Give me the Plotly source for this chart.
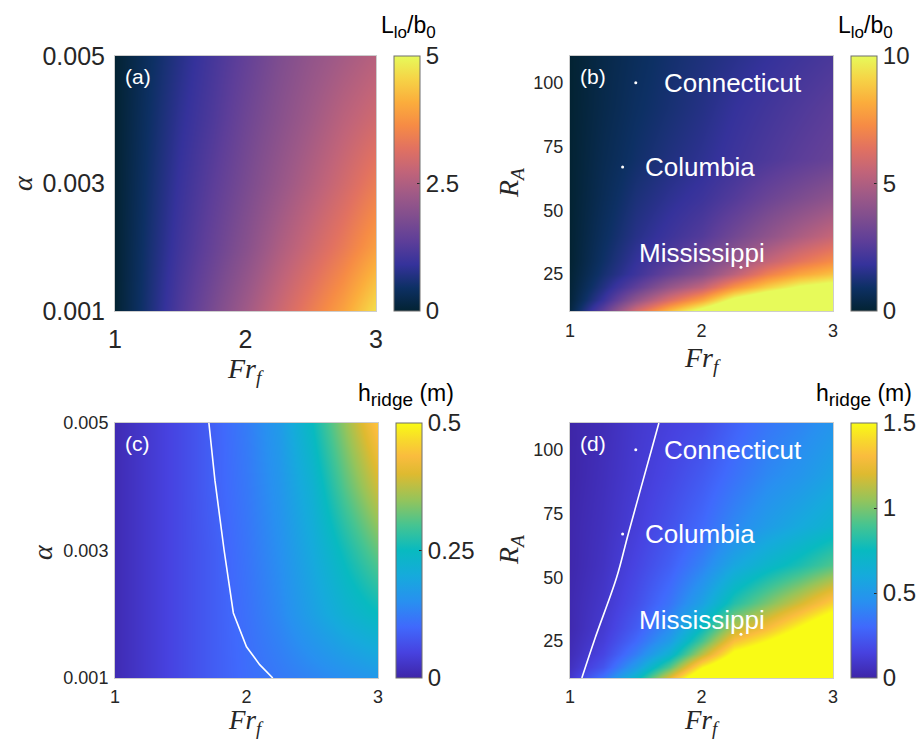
import plotly.graph_objects as go

W, H = 924, 740

# ---- grids -------------------------------------------------------------
fr = [1.0, 1.25, 1.5, 1.75, 2.0, 2.25, 2.5, 2.75, 3.0]
alpha = [0.001, 0.002, 0.003, 0.004, 0.005]
ra = [10, 15, 20, 25, 30, 40, 55, 70, 90, 110]

# L_lo / b_0 as a function of Fr_f (columns) and alpha (rows)
llo_alpha = [
    [0.0, 0.60, 1.20, 1.75, 2.30, 2.85, 3.40, 3.95, 4.70],
    [0.0, 0.55, 1.05, 1.50, 1.95, 2.45, 2.90, 3.35, 3.90],
    [0.0, 0.50, 0.95, 1.35, 1.75, 2.15, 2.55, 2.95, 3.40],
    [0.0, 0.45, 0.85, 1.20, 1.60, 1.95, 2.30, 2.65, 2.95],
    [0.0, 0.40, 0.75, 1.10, 1.45, 1.80, 2.10, 2.35, 2.60],
]

# L_lo / b_0 as a function of Fr_f (columns) and R_A (rows)
llo_ra = [
    [0.30, 2.9, 6.2, 8.8, 11.0, 13.0, 14.0, 15.0, 16.0],
    [0.15, 1.9, 4.2, 6.2, 8.0, 10.5, 12.0, 13.0, 14.0],
    [0.10, 1.4, 2.8, 4.3, 5.5, 7.5, 9.0, 10.2, 10.8],
    [0.05, 1.1, 2.0, 3.0, 3.9, 5.3, 6.9, 8.0, 8.7],
    [0.0, 0.95, 1.8, 2.5, 3.3, 4.3, 5.5, 6.5, 7.3],
    [0.0, 0.80, 1.5, 2.0, 2.5, 3.3, 4.1, 4.9, 5.6],
    [0.0, 0.65, 1.25, 1.65, 2.0, 2.5, 3.1, 3.6, 4.1],
    [0.0, 0.55, 1.0, 1.35, 1.65, 2.0, 2.35, 2.7, 3.0],
    [0.0, 0.45, 0.85, 1.15, 1.45, 1.8, 2.1, 2.4, 2.7],
    [0.0, 0.40, 0.75, 1.05, 1.3, 1.55, 1.8, 2.05, 2.3],
]

# ridge height (m) as a function of Fr_f (columns) and alpha (rows)
hr_alpha = [
    [0.01, 0.035, 0.06, 0.085, 0.105, 0.12, 0.135, 0.15, 0.165],
    [0.01, 0.035, 0.06, 0.085, 0.11, 0.14, 0.18, 0.22, 0.25],
    [0.01, 0.035, 0.06, 0.085, 0.115, 0.15, 0.20, 0.26, 0.32],
    [0.01, 0.035, 0.06, 0.09, 0.12, 0.16, 0.22, 0.31, 0.39],
    [0.01, 0.035, 0.06, 0.09, 0.125, 0.17, 0.25, 0.35, 0.45],
]

# ridge height (m) as a function of Fr_f (columns) and R_A (rows)
hr_ra = [
    [0.10, 0.35, 0.72, 1.25, 1.80, 2.10, 2.40, 2.70, 3.00],
    [0.06, 0.22, 0.52, 0.92, 1.48, 1.80, 2.00, 2.30, 2.60],
    [0.04, 0.16, 0.38, 0.66, 1.12, 1.55, 1.70, 1.95, 2.20],
    [0.03, 0.13, 0.30, 0.52, 0.90, 1.32, 1.50, 1.70, 1.90],
    [0.02, 0.11, 0.25, 0.44, 0.75, 1.12, 1.30, 1.52, 1.75],
    [0.02, 0.09, 0.20, 0.34, 0.55, 0.82, 1.00, 1.18, 1.38],
    [0.01, 0.07, 0.16, 0.26, 0.40, 0.58, 0.70, 0.80, 0.92],
    [0.01, 0.06, 0.13, 0.21, 0.30, 0.42, 0.52, 0.60, 0.68],
    [0.00, 0.05, 0.11, 0.17, 0.24, 0.33, 0.42, 0.48, 0.56],
    [0.00, 0.04, 0.10, 0.14, 0.18, 0.27, 0.35, 0.41, 0.48],
]

# white threshold curves
curve_c_fr = [1.714, 1.76, 1.83, 1.90, 2.00, 2.10, 2.20]
curve_c_alpha = [0.005, 0.0041, 0.003, 0.00202, 0.00149, 0.00121, 0.001]
curve_d_fr = [1.09, 1.19, 1.355, 1.443, 1.62, 1.676]
curve_d_ra = [10.5, 26, 50, 67, 100, 110.5]

# rivers
river_names = ["Connecticut", "Columbia", "Mississippi"]
river_fr = [1.50, 1.40, 2.30]
river_ra = [100, 67, 27.7]
label_fr = [1.70, 1.555, 1.51]
label_ra = [100, 67, 33.2]

# parula-like colour scale
parula = [
    [0.0, "rgb(62,38,168)"],
    [0.1, "rgb(71,66,224)"],
    [0.2, "rgb(64,105,252)"],
    [0.3, "rgb(40,144,240)"],
    [0.4, "rgb(22,170,220)"],
    [0.5, "rgb(8,186,192)"],
    [0.6, "rgb(70,196,145)"],
    [0.7, "rgb(150,196,90)"],
    [0.8, "rgb(222,186,48)"],
    [0.87, "rgb(250,188,62)"],
    [0.93, "rgb(248,215,45)"],
    [1.0, "rgb(249,251,21)"],
]

TXT = "rgb(38,38,38)"
SANS = "Liberation Sans"
SERIF = "Liberation Serif"

# panel boxes in pixels: (left, right, top, bottom)
boxes = {
    "a": (115, 376, 56, 311),
    "b": (570, 833, 56, 311),
    "c": (115, 378, 423, 678),
    "d": (570, 833, 423, 678),
}


def dom(key):
    l, r, t, b = boxes[key]
    return [l / W, r / W], [1 - b / H, 1 - t / H]


def cbar(key, tickvals, ticktext):
    l, r, t, b = boxes[key]
    return dict(
        x=(r + 18) / W, xanchor="left", xpad=0,
        y=1 - (t + b) / 2 / H, yanchor="middle", ypad=0,
        lenmode="pixels", len=b - t,
        thicknessmode="pixels", thickness=26,
        outlinewidth=1, outlinecolor="rgb(110,110,110)",
        tickvals=tickvals, ticktext=ticktext,
        ticks="inside", ticklen=3, tickcolor=TXT,
        tickfont=dict(family=SANS, size=24, color=TXT),
    )


fig = go.Figure()

fig.add_trace(go.Heatmap(
    x=fr, y=alpha, z=llo_alpha, zmin=0, zmax=5, colorscale="thermal",
    zsmooth="best", xaxis="x", yaxis="y",
    colorbar=cbar("a", [0, 2.5, 5], ["0", "2.5", "5"])))
fig.add_trace(go.Heatmap(
    x=fr, y=ra, z=llo_ra, zmin=0, zmax=10, colorscale="thermal",
    zsmooth="best", xaxis="x2", yaxis="y2",
    colorbar=cbar("b", [0, 5, 10], ["0", "5", "10"])))
fig.add_trace(go.Heatmap(
    x=fr, y=alpha, z=hr_alpha, zmin=0, zmax=0.5, colorscale=parula,
    zsmooth="best", xaxis="x3", yaxis="y3",
    colorbar=cbar("c", [0, 0.25, 0.5], ["0", "0.25", "0.5"])))
fig.add_trace(go.Heatmap(
    x=fr, y=ra, z=hr_ra, zmin=0, zmax=1.5, colorscale=parula,
    zsmooth="best", xaxis="x4", yaxis="y4",
    colorbar=cbar("d", [0, 0.5, 1, 1.5], ["0", "0.5", "1", "1.5"])))

fig.add_trace(go.Scatter(x=curve_c_fr, y=curve_c_alpha, mode="lines",
                         line=dict(color="white", width=1.6),
                         xaxis="x3", yaxis="y3", showlegend=False))
fig.add_trace(go.Scatter(x=curve_d_fr, y=curve_d_ra, mode="lines",
                         line=dict(color="white", width=1.6, shape="spline"),
                         xaxis="x4", yaxis="y4", showlegend=False))

for xa, ya in (("x2", "y2"), ("x4", "y4")):
    fig.add_trace(go.Scatter(x=river_fr, y=river_ra, mode="markers",
                             marker=dict(color="white", size=3),
                             xaxis=xa, yaxis=ya, showlegend=False))
    for name, fx, ry in zip(river_names, label_fr, label_ra):
        fig.add_annotation(x=fx, y=ry, xref=xa, yref=ya, text=name,
                           showarrow=False, xanchor="left", yanchor="middle",
                           font=dict(family=SANS, size=26, color="white"))


def axis_common(tick_size, standoff):
    return dict(showgrid=False, zeroline=False, showline=True, mirror=True,
                automargin=False,
                linecolor="rgb(205,205,205)", linewidth=1, ticks="",
                tickfont=dict(family=SANS, size=tick_size, color=TXT),
                ticklabelstandoff=standoff)


layout = dict(width=W, height=H, margin=dict(l=0, r=0, t=0, b=0, pad=0),
              paper_bgcolor="white", plot_bgcolor="white", showlegend=False)

# key, suffix, tick size, x standoff, y standoff, y range, y ticks
axes = [("a", "", 25, 6, 4, (0.001, 0.005), [0.001, 0.003, 0.005],
         ["0.001", "0.003", "0.005"]),
        ("b", "2", 18, 3, 2, (10.5, 110.5), [25, 50, 75, 100],
         ["25", "50", "75", "100"]),
        ("c", "3", 18, 2, 2, (0.001, 0.005), [0.001, 0.003, 0.005],
         ["0.001", "0.003", "0.005"]),
        ("d", "4", 18, 2, 2, (10.5, 110.5), [25, 50, 75, 100],
         ["25", "50", "75", "100"])]

for key, sfx, ts, xso, yso, yr, yt, ytt in axes:
    xd, yd = dom(key)
    xa = axis_common(ts, xso)
    xa.update(domain=xd, range=[1, 3], tickvals=[1, 2, 3],
              ticktext=["1", "2", "3"], anchor="y" + sfx)
    ya = axis_common(ts, yso)
    ya.update(domain=yd, range=list(yr), tickvals=yt, ticktext=ytt,
              anchor="x" + sfx)
    layout["xaxis" + sfx] = xa
    layout["yaxis" + sfx] = ya

fig.update_layout(**layout)

# panel tags
for key in ("a", "b", "c", "d"):
    l, r, t, b = boxes[key]
    fig.add_annotation(x=(l + 8) / W, y=1 - (t + 20) / H, xref="paper",
                       yref="paper", text="(%s)" % key, showarrow=False,
                       xanchor="left", yanchor="middle",
                       font=dict(family=SANS, size=21, color="white"))

# colour bar titles
LLO = ("L<sub><span style='font-size:17px'>lo</span></sub>/b"
       "<sub><span style='font-size:17px'>0</span></sub>")
HR = "h<sub><span style='font-size:19px'>ridge</span></sub> (m)"
cb_titles = [(LLO, 408, 27), (LLO, 865, 27), (HR, 406, 395), (HR, 864, 395)]
for txt, cx, cy in cb_titles:
    fig.add_annotation(x=cx / W, y=1 - cy / H, xref="paper", yref="paper",
                       text=txt, showarrow=False, xanchor="center",
                       yanchor="middle",
                       font=dict(family=SANS, size=23, color="black"))

# axis titles
FR = "<i>Fr</i><sub><i>f</i></sub>"
RA = "<i>R</i><sub><i>A</i></sub>"
xtitles = [(FR, 246, 370, 28), (FR, 702, 359, 28),
           (FR, 246, 722, 27), (FR, 702, 722, 27)]
for txt, cx, cy, fs in xtitles:
    fig.add_annotation(x=cx / W, y=1 - cy / H, xref="paper", yref="paper",
                       text=txt, showarrow=False, xanchor="center",
                       yanchor="middle",
                       font=dict(family=SERIF, size=fs, color=TXT))
ytitles = [("<i>α</i>", 22, 183), (RA, 510, 183), ("<i>α</i>", 42, 552),
           (RA, 510, 550)]
for txt, cx, cy in ytitles:
    fig.add_annotation(x=cx / W, y=1 - cy / H, xref="paper", yref="paper",
                       text=txt, showarrow=False, textangle=-90,
                       xanchor="center", yanchor="middle",
                       font=dict(family=SERIF, size=28, color=TXT))

fig.write_html("out.html")
